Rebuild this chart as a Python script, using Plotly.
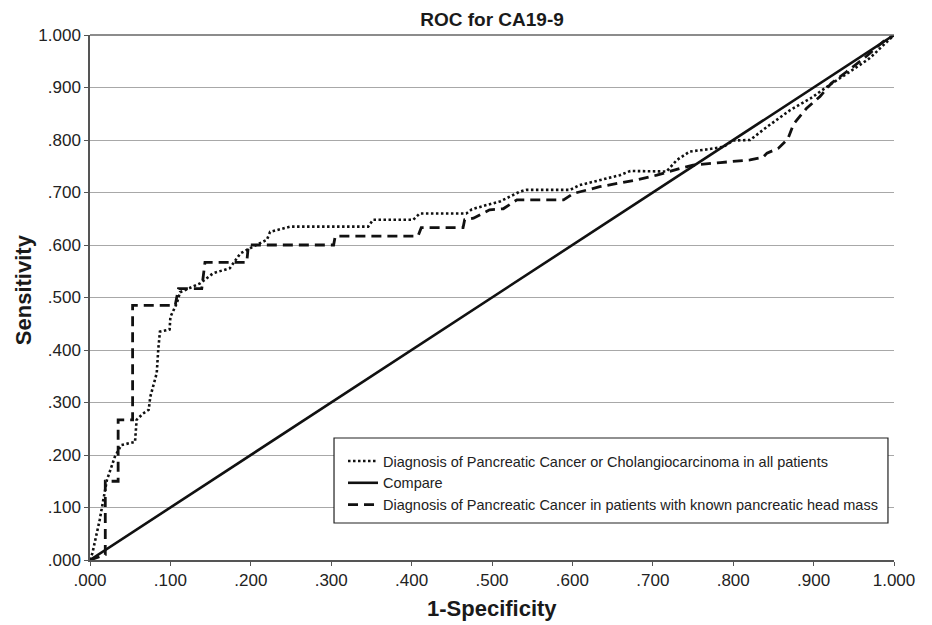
import plotly.graph_objects as go

# ---- data ----
all_fpr = [0.0, 0.003, 0.012, 0.021, 0.031, 0.039, 0.056, 0.058, 0.066, 0.073, 0.075, 0.083,
           0.085, 0.087, 0.099, 0.100, 0.108, 0.112, 0.137, 0.153, 0.174, 0.180, 0.187, 0.203,
           0.220, 0.224, 0.240, 0.249, 0.346, 0.352, 0.402, 0.410, 0.468, 0.475, 0.493, 0.510,
           0.522, 0.535, 0.543, 0.597, 0.609, 0.634, 0.659, 0.672, 0.717, 0.730, 0.746, 0.767,
           0.788, 0.800, 0.821, 0.842, 0.854, 0.871, 0.896, 0.920, 0.945, 0.970, 1.0]
all_tpr = [0.0, 0.013, 0.076, 0.152, 0.197, 0.219, 0.225, 0.267, 0.279, 0.286, 0.311, 0.356,
           0.403, 0.435, 0.439, 0.463, 0.489, 0.510, 0.527, 0.546, 0.556, 0.568, 0.584, 0.597,
           0.610, 0.625, 0.632, 0.635, 0.635, 0.648, 0.648, 0.660, 0.660, 0.668, 0.676, 0.683,
           0.692, 0.702, 0.705, 0.705, 0.714, 0.724, 0.733, 0.741, 0.740, 0.762, 0.778, 0.782,
           0.787, 0.799, 0.800, 0.825, 0.838, 0.857, 0.879, 0.905, 0.930, 0.956, 1.0]

compare_x = [0.0, 1.0]
compare_y = [0.0, 1.0]

head_fpr = [0.0, 0.019, 0.019, 0.035, 0.035, 0.053, 0.053, 0.106, 0.110, 0.139, 0.143, 0.195,
            0.197, 0.303, 0.305, 0.408, 0.412, 0.464, 0.466, 0.477, 0.497, 0.514, 0.531, 0.589,
            0.601, 0.634, 0.680, 0.705, 0.734, 0.750, 0.784, 0.821, 0.837, 0.842, 0.856, 0.868,
            0.875, 0.891, 0.908, 0.922, 0.941, 0.963, 0.987, 1.0]
head_tpr = [0.0, 0.010, 0.150, 0.150, 0.267, 0.267, 0.485, 0.485, 0.517, 0.517, 0.567, 0.567,
            0.600, 0.600, 0.617, 0.617, 0.633, 0.633, 0.648, 0.651, 0.667, 0.669, 0.686, 0.686,
            0.698, 0.711, 0.724, 0.733, 0.746, 0.752, 0.757, 0.762, 0.767, 0.775, 0.784, 0.802,
            0.830, 0.860, 0.883, 0.908, 0.930, 0.956, 0.988, 1.0]

tick_vals = [0.0, 0.1, 0.2, 0.3, 0.4, 0.5, 0.6, 0.7, 0.8, 0.9, 1.0]
tick_text = [".000", ".100", ".200", ".300", ".400", ".500", ".600", ".700", ".800", ".900", "1.000"]

names = ["Diagnosis of Pancreatic Cancer or Cholangiocarcinoma in all patients",
         "Compare",
         "Diagnosis of Pancreatic Cancer in patients with known pancreatic head mass"]

FONT = "Liberation Sans, Arial, Helvetica, sans-serif"

fig = go.Figure()
fig.add_trace(go.Scatter(x=all_fpr, y=all_tpr, mode="lines", name=names[0],
                         line=dict(color="#111111", width=2.6, dash="2.5px,2.5px")))
fig.add_trace(go.Scatter(x=compare_x, y=compare_y, mode="lines", name=names[1],
                         line=dict(color="#111111", width=2.6)))
fig.add_trace(go.Scatter(x=head_fpr, y=head_tpr, mode="lines", name=names[2],
                         line=dict(color="#111111", width=2.8, dash="10px,6px")))

axis_common = dict(
    range=[0, 1], tickvals=tick_vals, ticktext=tick_text,
    ticks="outside", ticklen=4, tickcolor="#555555", tickwidth=1,
    showline=True, linecolor="#555555", linewidth=1.5,
    tickfont=dict(family=FONT, size=17, color="#222222"),
    zeroline=False, fixedrange=True,
)

fig.update_xaxes(**axis_common, showgrid=False)
fig.update_yaxes(**axis_common, showgrid=True, gridcolor="#a8a8a8", gridwidth=1)

# top border line of the plot area
fig.add_shape(type="line", xref="paper", yref="paper", x0=0, x1=1, y0=1, y1=1,
              line=dict(color="#666666", width=1.5))
# legend frame (white box hiding gridlines)
fig.add_shape(type="rect", xref="paper", yref="paper", layer="above",
              x0=0.3035, x1=0.9925, y0=0.0705, y1=0.2324,
              fillcolor="white", line=dict(color="#222222", width=1.2))

fig.update_layout(
    width=932, height=625,
    margin=dict(l=90, r=38, t=35, b=65),
    paper_bgcolor="white", plot_bgcolor="white",
    font=dict(family=FONT, color="#222222"),
    title=dict(text="<b>ROC for CA19-9</b>", x=0.5, xref="paper", xanchor="center",
               y=1 - 19 / 625, yref="container", yanchor="middle",
               font=dict(family=FONT, size=19, color="#1a1a1a")),
    legend=dict(x=0.3147, y=0.219, xanchor="left", yanchor="top",
                bgcolor="rgba(0,0,0,0)", borderwidth=0,
                font=dict(family=FONT, size=14.5, color="#222222"),
                tracegroupgap=0, itemwidth=30),
    showlegend=True,
    annotations=[
        dict(text="<b>1-Specificity</b>", xref="paper", yref="paper", x=0.5, y=-0.0933,
             xanchor="center", yanchor="middle", showarrow=False,
             font=dict(family=FONT, size=22, color="#1a1a1a")),
        dict(text="<b>Sensitivity</b>", xref="paper", yref="paper", x=-0.0833, y=0.514,
             xanchor="center", yanchor="middle", showarrow=False, textangle=-90,
             font=dict(family=FONT, size=22, color="#1a1a1a")),
    ],
)

fig.write_html("out.html", config={"displayModeBar": False},
               post_script="document.body.style.margin='0px';")
